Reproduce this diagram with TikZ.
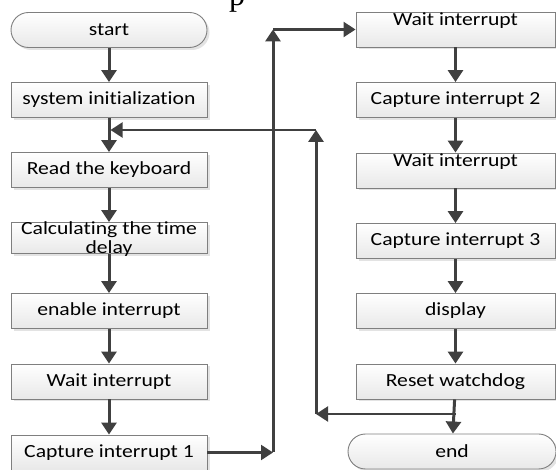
\documentclass[tikz,border=0pt]{standalone}
\usepackage{fontspec}
\setmainfont{Carlito}[Ligatures=NoCommon, FakeStretch=1.17]
\newfontfamily\serifp{Liberation Serif}
\usetikzlibrary{arrows.meta,shadows}
\definecolor{arrowgray}{HTML}{404040}
\definecolor{edgegray}{HTML}{7F7F7F}
\tikzset{
  box/.style={draw=edgegray, line width=0.9pt, top color=white, bottom color=black!9,
    minimum width=196pt, minimum height=35pt, inner sep=2pt,
    font=\fontsize{18.5}{20}\selectfont,
    drop shadow={opacity=0.22, shadow xshift=2.5pt, shadow yshift=-2.5pt}},
  rbox/.style={box, minimum width=199pt},
  topbox/.style={rbox, text height=11pt, text depth=18pt},
  term/.style={box, rounded corners=17.5pt},
  arr/.style={draw=arrowgray, line width=3pt, -{Triangle[length=12pt,width=15pt]}},
  thinarr/.style={arr, line width=2.2pt},
}
\begin{document}
\begin{tikzpicture}[x=1pt,y=1pt]
\useasboundingbox (0,0) rectangle (556,470);
\node[font=\serifp\fontsize{32}{32}\selectfont, anchor=base, inner sep=0] (ptxt) at (237,464.5) {p};
% left column
\node[term] (start) at (109,440) {start};
\node[box] (sys) at (109,370) {system initialization};
\node[box] (read) at (109,300) {Read the keyboard};
\node[box, minimum height=31pt] (calc) at (109,232) {};
\node[align=center, font=\fontsize{18.5}{19}\selectfont, inner sep=0] (calctext) at (109,231) {Calculating the time\\delay};
\node[box] (enable) at (109,159) {enable interrupt};
\node[box] (waitA) at (109,88.5) {Wait interrupt};
\node[box] (capA) at (109,17.5) {Capture interrupt 1};
% right column
\node[topbox] (waitB) at (455.5,440.5) {Wait interrupt};
\node[rbox] (capB) at (455.5,370) {Capture interrupt 2};
\node[topbox] (waitC) at (455.5,299.5) {Wait interrupt};
\node[rbox] (capC) at (455.5,229) {Capture interrupt 3};
\node[rbox] (disp) at (455.5,159) {display};
\node[rbox] (reset) at (455.5,88.5) {Reset watchdog};
\node[term, minimum width=208pt] (end) at (452,18.5) {end};
% helper points
\coordinate (c1) at (273,17.5);
\coordinate (c2) at (273,440.5);
\coordinate (j) at (455.5,56);
\coordinate (c3) at (316,56);
\coordinate (c4) at (316,340);
\coordinate (c5) at (110.5,340);
% connectors
\draw[arr] (start) -- (sys);
\draw[arr] (sys) -- (read);
\draw[arr] (read) -- (calc);
\draw[arr] (calc) -- (enable);
\draw[arr] (enable) -- (waitA);
\draw[arr] (waitA) -- (capA);
\draw[thinarr] (capA) -- (c1);
\draw[arr] (c1) -- (c2);
\draw[thinarr] (c2) -- (waitB);
\draw[arr] (waitB) -- (capB);
\draw[arr] (capB) -- (waitC);
\draw[arr] (waitC) -- (capC);
\draw[arr] (capC) -- (disp);
\draw[arr] (disp) -- (reset);
\draw[arr] (reset) -- (end);
\draw[thinarr] (j) -- (c3);
\draw[arr] (c3) -- (c4);
\draw[thinarr] (c4) -- (c5);
\end{tikzpicture}
\end{document}
